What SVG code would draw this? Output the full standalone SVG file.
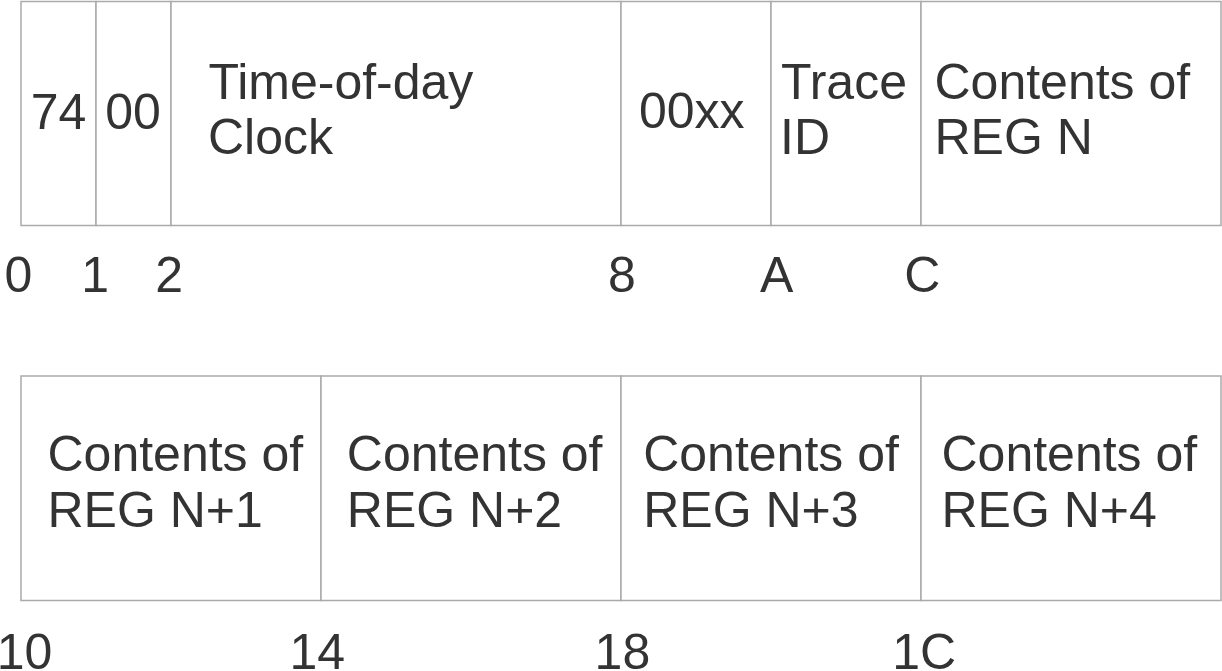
<svg xmlns="http://www.w3.org/2000/svg" width="1222" height="671" viewBox="0 0 1222 671">
<style>
.cell{fill:#ffffff;stroke:#aaaaaa;stroke-width:1.5}
.t{font-family:"Liberation Sans",Arial,sans-serif;font-size:50px;fill:#333333}
.m{text-anchor:middle}
</style>
<rect width="1222" height="671" fill="#ffffff"/>
<g id="row1">
<g id="f74"><rect class="cell" x="21" y="1.5" width="75" height="224"/><text class="t m" x="58.5" y="129">74</text></g>
<g id="f00"><rect class="cell" x="96" y="1.5" width="75" height="224"/><text class="t m" x="133" y="129">00</text></g>
<g id="ftod"><rect class="cell" x="171" y="1.5" width="450" height="224"/><text class="t" x="208.5" y="98.5">Time-of-day</text><text class="t" x="208" y="154">Clock</text></g>
<g id="f00xx"><rect class="cell" x="621" y="1.5" width="150" height="224"/><text class="t" x="639" y="128">00xx</text></g>
<g id="ftrace"><rect class="cell" x="771" y="1.5" width="150" height="224"/><text class="t" x="781" y="98.5">Trace</text><text class="t" x="780" y="154">ID</text></g>
<g id="fregn"><rect class="cell" x="921" y="1.5" width="300" height="224"/><text class="t" x="934.5" y="98.5">Contents of</text><text class="t" x="934.5" y="154">REG N</text></g>
</g>
<g id="row2">
<g id="fregn1"><rect class="cell" x="21" y="376" width="300" height="224.5"/><text class="t" x="47.5" y="471">Contents of</text><text class="t" x="47.5" y="527">REG N+1</text></g>
<g id="fregn2"><rect class="cell" x="321" y="376" width="300" height="224.5"/><text class="t" x="346.8" y="471">Contents of</text><text class="t" x="346.8" y="527">REG N+2</text></g>
<g id="fregn3"><rect class="cell" x="621" y="376" width="300" height="224.5"/><text class="t" x="643.2" y="471">Contents of</text><text class="t" x="643.2" y="527">REG N+3</text></g>
<g id="fregn4"><rect class="cell" x="921" y="376" width="300" height="224.5"/><text class="t" x="941.5" y="471">Contents of</text><text class="t" x="941.5" y="527">REG N+4</text></g>
</g>
<g id="offsets">
<text class="t" x="4.6" y="292">0</text>
<text class="t" x="81.2" y="292">1</text>
<text class="t" x="155.2" y="292">2</text>
<text class="t" x="608" y="292">8</text>
<text class="t" x="760" y="292">A</text>
<text class="t" x="904.2" y="292">C</text>
<text class="t" x="-3.2" y="669">10</text>
<text class="t" x="289.5" y="669">14</text>
<text class="t" x="594.6" y="669">18</text>
<text class="t" x="892.2" y="669">1C</text>
</g>
</svg>
